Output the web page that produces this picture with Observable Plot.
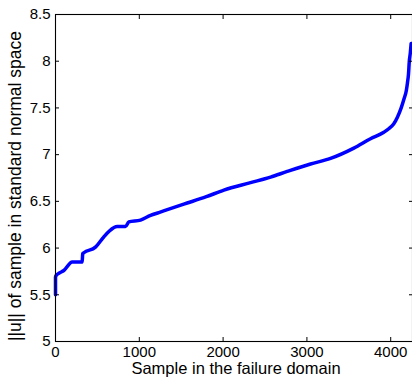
<!DOCTYPE html>
<html>
<head>
<meta charset="utf-8">
<script src="https://cdn.jsdelivr.net/npm/d3@7"></script>
<script src="https://cdn.jsdelivr.net/npm/@observablehq/plot@0.6"></script>
<style>
  html, body { margin: 0; padding: 0; background: #fff; }
  #chart { width: 412px; height: 381px; }
</style>
</head>
<body>
<div id="chart"></div>
<script>
// Sample index in the failure domain
const sampleIndex = [0, 0, 10, 40, 100, 199, 318, 325, 338, 477, 577, 640, 736, 835, 875, 1014, 1134, 1233, 1531, 1800, 2009, 2327, 2566, 2765, 3043, 3282, 3560, 3759, 3918, 3980, 4037, 4080, 4125, 4160, 4187, 4200, 4212, 4222, 4234, 4244];
// ||u|| of sample in standard normal space
const normU = [5.5, 5.69, 5.71, 5.73, 5.76, 5.85, 5.85, 5.94, 5.95, 6.01, 6.12, 6.18, 6.23, 6.23, 6.28, 6.30, 6.35, 6.38, 6.47, 6.55, 6.62, 6.70, 6.76, 6.82, 6.90, 6.96, 7.07, 7.17, 7.24, 7.28, 7.33, 7.40, 7.50, 7.60, 7.69, 7.77, 7.86, 8.0, 8.09, 8.19];

const xTicks = [0, 1000, 2000, 3000, 4000];
const yTicks = [5, 5.5, 6, 6.5, 7, 7.5, 8, 8.5];
const xLabel = "Sample in the failure domain";
const yLabel = "||u|| of sample in standard normal space";

const data = sampleIndex.map((x, i) => ({x, y: normU[i]}));

const chart = Plot.plot({
  width: 412,
  height: 381,
  marginLeft: 55,
  marginTop: 14,
  marginBottom: 40,
  marginRight: 0,
  x: {domain: [0, 4260]},
  y: {domain: [5, 8.5]},
  style: {fontFamily: "'Liberation Sans', Arial, Helvetica, sans-serif", fontSize: "15px", background: "#fff", color: "#000"},
  marks: [
    Plot.line(data, {x: "x", y: "y", stroke: "#0000ff", strokeWidth: 3.5, curve: "monotone-x"}),
    Plot.frame({stroke: "#000", strokeWidth: 1.1}),
    Plot.axisX({ticks: xTicks, tickSize: -4, tickPadding: 9, tickFormat: d => String(d), label: null, fontSize: 15}),
    Plot.axisX({anchor: "top", ticks: xTicks, tickSize: -4, tickFormat: () => "", label: null}),
    Plot.axisY({ticks: yTicks, tickSize: -4, tickPadding: 9, tickFormat: d => String(d), label: null, fontSize: 15}),
    Plot.axisY({anchor: "right", ticks: yTicks, tickSize: -4, tickFormat: () => "", label: null}),
    Plot.text([xLabel], {frameAnchor: "bottom", lineAnchor: "middle", textAnchor: "middle", text: d => d, dx: 2, dy: 27.5, fontSize: 16.5}),
    Plot.text([yLabel], {frameAnchor: "left", lineAnchor: "middle", textAnchor: "middle", text: d => d, rotate: -90, dx: -40, dy: 8, fontSize: 17.5})
  ]
});
document.getElementById("chart").appendChild(chart);
</script>
</body>
</html>
